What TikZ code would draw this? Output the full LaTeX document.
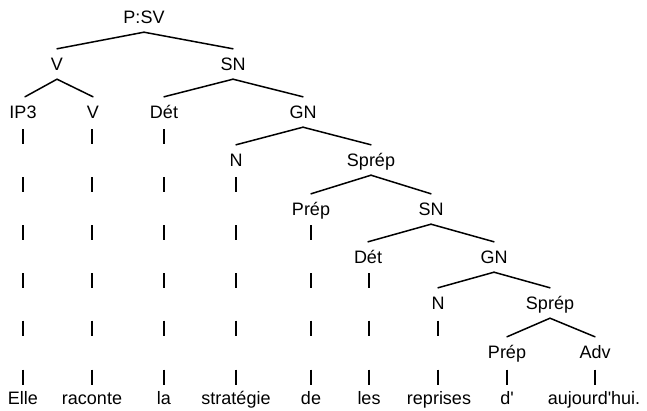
\documentclass[tikz,border=0pt]{standalone}
\usepackage{fontspec}
\setmainfont{Liberation Sans}
\begin{document}
\begin{tikzpicture}[x=1pt,y=-1pt,
  lab/.style={font=\fontsize{18}{20}\selectfont, inner xsep=0pt, inner ysep=8.5pt,
              text height=13pt, text depth=0pt, anchor=base},
  branch/.style={line width=1.5pt, line cap=round},
  barline/.style={line width=1.7pt}]
\useasboundingbox[fill=white] (0,0) rectangle (647,411);
% level 0
\node[lab] (psv) at (144,23.5) {P:SV};
% level 1
\node[lab] (v1) at (57,70.5) {V};
\node[lab] (sn1) at (233,70.5) {SN};
% level 2
\node[lab] (ip3) at (23,118.5) {IP3};
\node[lab] (v2) at (93,118.5) {V};
\node[lab] (det1) at (164,118.5) {Dét};
\node[lab] (gn1) at (303,118.5) {GN};
% level 3
\node[lab] (n1) at (236,166.5) {N};
\node[lab] (sprep1) at (371,166.5) {Sprép};
% level 4
\node[lab] (prep1) at (311,215.5) {Prép};
\node[lab] (sn2) at (431,215.5) {SN};
% level 5
\node[lab] (det2) at (368,263.5) {Dét};
\node[lab] (gn2) at (494,263.5) {GN};
% level 6
\node[lab] (n2) at (438,309.5) {N};
\node[lab] (sprep2) at (550,309.5) {Sprép};
% level 7
\node[lab] (prep2) at (507,358.5) {Prép};
\node[lab] (adv) at (595,358.5) {Adv};
% words
\node[lab] (w1) at (23,404.5) {Elle};
\node[lab] (w2) at (92,404.5) {raconte};
\node[lab] (w3) at (164,404.5) {la};
\node[lab] (w4) at (236,404.5) {stratégie};
\node[lab] (w5) at (311,404.5) {de};
\node[lab] (w6) at (369,404.5) {les};
\node[lab] (w7) at (439,404.5) {reprises};
\node[lab] (w8) at (507,404.5) {d\textquotesingle};
\node[lab] (w9) at (594,404.5) {aujourd\textquotesingle hui.};
% branches
\draw[branch] (psv.south) -- (v1.north);
\draw[branch] (psv.south) -- (sn1.north);
\draw[branch] (v1.south) -- ([xshift=2pt]ip3.north);
\draw[branch] (v1.south) -- (v2.north);
\draw[branch] (sn1.south) -- (det1.north);
\draw[branch] (sn1.south) -- (gn1.north);
\draw[branch] (gn1.south) -- (n1.north);
\draw[branch] (gn1.south) -- (sprep1.north);
\draw[branch] (sprep1.south) -- (prep1.north);
\draw[branch] (sprep1.south) -- (sn2.north);
\draw[branch] (sn2.south) -- (det2.north);
\draw[branch] (sn2.south) -- (gn2.north);
\draw[branch] (gn2.south) -- (n2.north);
\draw[branch] (gn2.south) -- (sprep2.north);
\draw[branch] (sprep2.south) -- (prep2.north);
\draw[branch] (sprep2.south) -- (adv.north);
% vertical bars
\foreach \x/\rows in {23/{137,185,233,281,328,377},
                      92/{137,185,233,281,328,377},
                      164/{137,185,233,281,328,377},
                      236/{185,233,281,328,377},
                      311/{233,281,328,377},
                      369/{281,328,377},
                      438/{328,377},
                      507/{377},
                      595/{377}}{
  \foreach \y in \rows {
    \draw[barline] (\x,\y-7.5) -- (\x,\y+7.5);
  }
}
\end{tikzpicture}
\end{document}
